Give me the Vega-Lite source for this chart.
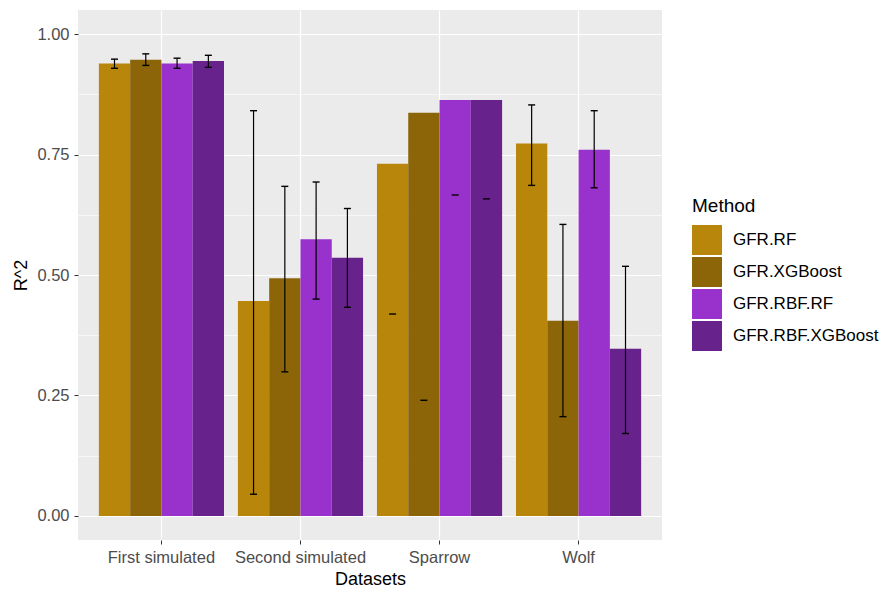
{
  "$schema": "https://vega.github.io/schema/vega-lite/v6.json",
  "width": 584,
  "height": 530,
  "autosize": {"type": "none"},
  "padding": {"left": 78, "top": 10, "right": 222, "bottom": 49},
  "background": "white",
  "config": {
    "view": {"fill": "#EBEBEB", "stroke": null},
    "font": "Liberation Sans",
    "axis": {"domain": false, "gridColor": "white", "tickColor": "#333333", "tickSize": 4, "labelColor": "#4D4D4D", "labelFontSize": 16.5, "titleFontSize": 18, "titleColor": "black", "titleFontWeight": "normal"}
  },
  "data": {
    "values": [
      {"Dataset": "First simulated", "Method": "GFR.RF", "R2": 0.939, "lo": 0.929, "hi": 0.948},
      {"Dataset": "First simulated", "Method": "GFR.XGBoost", "R2": 0.947, "lo": 0.935, "hi": 0.959},
      {"Dataset": "First simulated", "Method": "GFR.RBF.RF", "R2": 0.939, "lo": 0.929, "hi": 0.950},
      {"Dataset": "First simulated", "Method": "GFR.RBF.XGBoost", "R2": 0.944, "lo": 0.931, "hi": 0.956},
      {"Dataset": "Second simulated", "Method": "GFR.RF", "R2": 0.446, "lo": 0.045, "hi": 0.841},
      {"Dataset": "Second simulated", "Method": "GFR.XGBoost", "R2": 0.493, "lo": 0.299, "hi": 0.684},
      {"Dataset": "Second simulated", "Method": "GFR.RBF.RF", "R2": 0.574, "lo": 0.450, "hi": 0.693},
      {"Dataset": "Second simulated", "Method": "GFR.RBF.XGBoost", "R2": 0.536, "lo": 0.433, "hi": 0.638},
      {"Dataset": "Sparrow", "Method": "GFR.RF", "R2": 0.731, "lo": 0.419, "hi": null},
      {"Dataset": "Sparrow", "Method": "GFR.XGBoost", "R2": 0.837, "lo": 0.240, "hi": null},
      {"Dataset": "Sparrow", "Method": "GFR.RBF.RF", "R2": 0.863, "lo": 0.666, "hi": null},
      {"Dataset": "Sparrow", "Method": "GFR.RBF.XGBoost", "R2": 0.863, "lo": 0.658, "hi": null},
      {"Dataset": "Wolf", "Method": "GFR.RF", "R2": 0.773, "lo": 0.686, "hi": 0.853},
      {"Dataset": "Wolf", "Method": "GFR.XGBoost", "R2": 0.405, "lo": 0.206, "hi": 0.605},
      {"Dataset": "Wolf", "Method": "GFR.RBF.RF", "R2": 0.760, "lo": 0.681, "hi": 0.841},
      {"Dataset": "Wolf", "Method": "GFR.RBF.XGBoost", "R2": 0.347, "lo": 0.171, "hi": 0.518}
    ]
  },
  "encoding": {
    "x": {
      "field": "Dataset", "type": "nominal",
      "sort": ["First simulated", "Second simulated", "Sparrow", "Wolf"],
      "scale": {"paddingInner": 0.1, "paddingOuter": 0.15},
      "axis": {"title": "Datasets", "labelAngle": 0, "grid": true, "gridWidth": 1.2, "bandPosition": 0.5, "labelPadding": 5, "titlePadding": 5}
    },
    "xOffset": {
      "field": "Method", "type": "nominal",
      "sort": ["GFR.RF", "GFR.XGBoost", "GFR.RBF.RF", "GFR.RBF.XGBoost"],
      "scale": {"paddingInner": 0, "paddingOuter": 0}
    }
  },
  "layer": [
    {
      "mark": {"type": "bar"},
      "encoding": {
        "y": {
          "field": "R2", "type": "quantitative",
          "scale": {"domain": [-0.05, 1.05], "nice": false, "zero": false},
          "axis": {
            "title": "R^2",
            "values": [0, 0.125, 0.25, 0.375, 0.5, 0.625, 0.75, 0.875, 1],
            "labelExpr": "datum.value % 0.25 == 0 ? format(datum.value, '.2f') : ''",
            "gridWidth": {"condition": {"test": "datum.value % 0.25 == 0", "value": 1.2}, "value": 0.6},
            "tickOpacity": {"condition": {"test": "datum.value % 0.25 == 0", "value": 1}, "value": 0},
            "labelPadding": 5,
            "titlePadding": 6
          }
        },
        "color": {
          "field": "Method", "type": "nominal",
          "sort": ["GFR.RF", "GFR.XGBoost", "GFR.RBF.RF", "GFR.RBF.XGBoost"],
          "scale": {"domain": ["GFR.RF", "GFR.XGBoost", "GFR.RBF.RF", "GFR.RBF.XGBoost"], "range": ["#B8860B", "#8B6508", "#9932CC", "#68228B"]},
          "legend": {
            "title": "Method", "orient": "none", "legendX": 614, "legendY": 187,
            "titleFontSize": 19, "titleFontWeight": "normal", "titleColor": "black", "titlePadding": 9,
            "labelFontSize": 17, "labelColor": "black", "labelOffset": 11,
            "symbolType": "square", "symbolSize": 900, "symbolStrokeWidth": 0, "symbolOpacity": 1, "rowPadding": 2
          }
        }
      }
    },
    {
      "transform": [{"filter": "datum.hi != null"}],
      "mark": {"type": "rule", "color": "black", "strokeWidth": 1.2},
      "encoding": {"y": {"field": "lo", "type": "quantitative"}, "y2": {"field": "hi"}}
    },
    {
      "transform": [{"filter": "datum.hi != null"}],
      "mark": {"type": "tick", "color": "black", "size": 7, "thickness": 1.4, "opacity": 1},
      "encoding": {"y": {"field": "hi", "type": "quantitative"}}
    },
    {
      "mark": {"type": "tick", "color": "black", "size": 7, "thickness": 1.4, "opacity": 1},
      "encoding": {"y": {"field": "lo", "type": "quantitative"}}
    }
  ]
}
